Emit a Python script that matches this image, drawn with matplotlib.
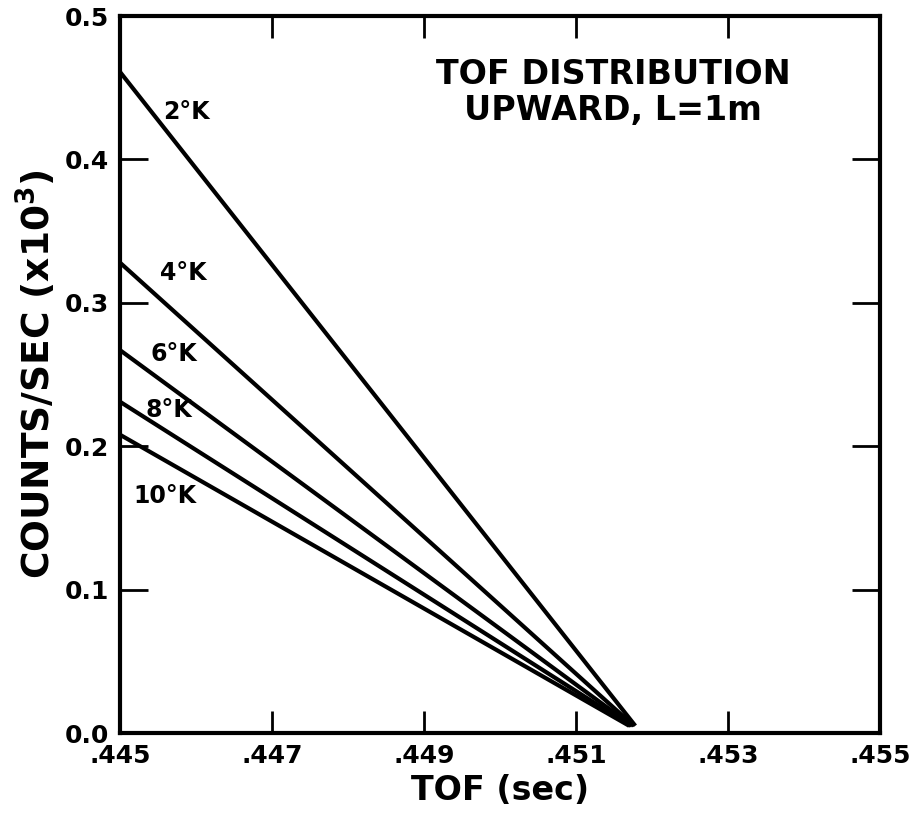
import numpy as np
import matplotlib.pyplot as plt

# ---------------------- data ----------------------
temps = ["2°K", "4°K", "6°K", "8°K", "10°K"]
tof_start = [0.445, 0.445, 0.445, 0.445, 0.445]
tof_end = [0.45178, 0.45176, 0.45174, 0.45172, 0.45170]
counts_start = [0.461, 0.328, 0.267, 0.231, 0.208]
counts_end = [0.005, 0.005, 0.005, 0.005, 0.005]

label_x = [0.44557, 0.44553, 0.44540, 0.44533, 0.44518]
label_y = [0.433, 0.321, 0.264, 0.225, 0.165]

x_ticks = [0.445, 0.447, 0.449, 0.451, 0.453, 0.455]
x_ticklabels = [".445", ".447", ".449", ".451", ".453", ".455"]
y_ticks = [0.0, 0.1, 0.2, 0.3, 0.4, 0.5]
y_ticklabels = ["0.0", "0.1", "0.2", "0.3", "0.4", "0.5"]

# ---------------------- plot ----------------------
plt.rcParams["font.family"] = ["DejaVu Sans"]
plt.rcParams["mathtext.default"] = "bf"

fig = plt.figure(figsize=(9.17, 8.14), dpi=100)
ax = fig.add_axes([0.1309, 0.0995, 0.8288, 0.8808])

for i in range(len(temps)):
    ax.plot([tof_start[i], tof_end[i]], [counts_start[i], counts_end[i]],
            color="black", lw=3, solid_capstyle="butt")
    ax.text(label_x[i], label_y[i], temps[i], fontsize=17, fontweight="bold",
            va="center", ha="left")

ax.text(0.45149, 0.4465, "TOF DISTRIBUTION\nUPWARD, L=1m", fontsize=24,
        fontweight="bold", ha="center", va="center", linespacing=1.1)

ax.set_xlim(0.445, 0.455)
ax.set_ylim(0.0, 0.5)
ax.set_xticks(x_ticks)
ax.set_xticklabels(x_ticklabels)
ax.set_yticks(y_ticks)
ax.set_yticklabels(y_ticklabels)

ax.tick_params(direction="in", width=2, top=True, right=True,
               labelsize=18, pad=8)
ax.tick_params(axis="x", length=16)
ax.tick_params(axis="y", length=20)
for lab in ax.get_xticklabels() + ax.get_yticklabels():
    lab.set_fontweight("bold")
for sp in ax.spines.values():
    sp.set_linewidth(3)

ax.set_xlabel("TOF (sec)", fontsize=24, fontweight="bold", labelpad=4)
ax.set_ylabel("COUNTS/SEC (x10$^3$)", fontsize=27, fontweight="bold", labelpad=4)

fig.savefig("out.png", dpi=100)
